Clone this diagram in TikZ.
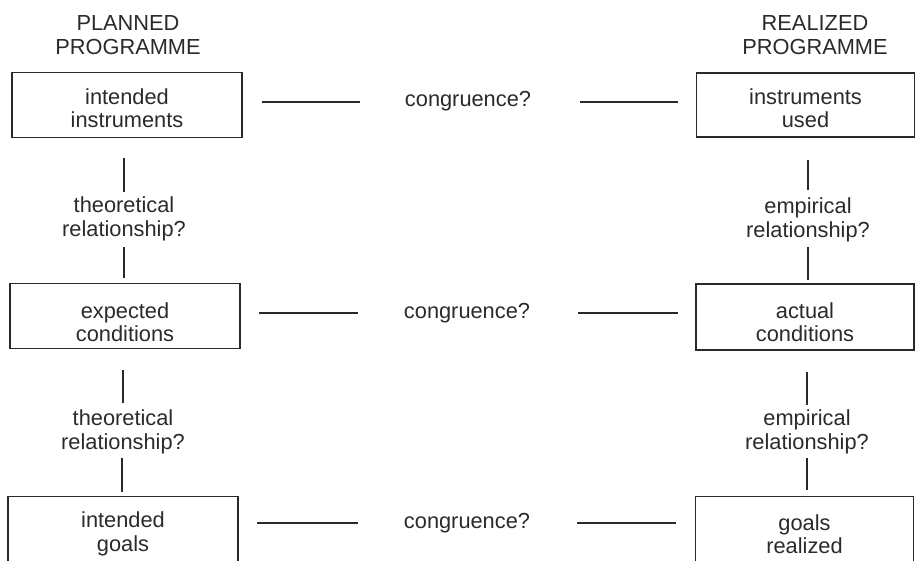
\documentclass[tikz,border=0pt]{standalone}
\usepackage{fontspec}
\setmainfont{Liberation Sans}
\definecolor{ink}{HTML}{2A2A2A}
\begin{document}
\begin{tikzpicture}[x=1pt,y=-1pt,
  txt/.style={font=\fontsize{21.8}{23.5}\selectfont, text=ink, align=center, inner sep=0pt},
  box/.style={draw=ink, line width=1.6pt, minimum height=65pt, inner sep=0pt},
  link/.style={draw=ink, line width=1.7pt}]
  \useasboundingbox (0,0) rectangle (915,560);
  \clip (0,0) rectangle (915,560);

  % column headings
  \node[txt] (hl) at (128,35) {PLANNED\\PROGRAMME};
  \node[txt] (hr) at (815,35) {REALIZED\\PROGRAMME};

  % planned programme
  \node[box, minimum width=230pt, label={[txt, yshift=-3pt]center:{intended\\instruments}}] (ii) at (127,105) {};
  \node[box, minimum width=230pt, label={[txt, yshift=-6pt]center:{expected\\conditions}}] (ec) at (125,316) {};
  \node[box, minimum width=230pt, label={[txt, yshift=-5pt]center:{intended\\goals}}] (ig) at (123,529) {};

  % realized programme
  \node[box, minimum width=218pt, minimum height=64pt, label={[txt, yshift=-3pt]center:{instruments\\used}}] (iu) at (805.5,105) {};
  \node[box, minimum width=218pt, minimum height=66pt, label={[txt, yshift=-5pt]center:{actual\\conditions}}] (ac) at (805,317) {};
  \node[box, minimum width=218pt, label={[txt, yshift=-5pt]center:{goals\\realized}}] (gr) at (804.5,529) {};

  % congruence labels
  \node[txt] (c1) at (468,101) {congruence?};
  \node[txt] (c2) at (467,313) {congruence?};
  \node[txt] (c3) at (467,523) {congruence?};

  % relationship labels
  \node[txt] (t1) at (124,219) {theoretical\\relationship?};
  \node[txt] (t2) at (123,432) {theoretical\\relationship?};
  \node[txt] (e1) at (808,220) {empirical\\relationship?};
  \node[txt] (e2) at (807,432) {empirical\\relationship?};

  % horizontal connectors: box -- label -- box
  \coordinate (a1) at (262,102); \coordinate (b1) at (360,102);
  \coordinate (a2) at (580,102); \coordinate (b2) at (678,102);
  \coordinate (a3) at (259,313); \coordinate (b3) at (358,313);
  \coordinate (a4) at (578,313); \coordinate (b4) at (678,313);
  \coordinate (a5) at (257,523); \coordinate (b5) at (358,523);
  \coordinate (a6) at (577,523); \coordinate (b6) at (676,523);
  \foreach \i in {1,...,6} \draw[link] (a\i) -- (b\i);

  % vertical connectors: box -- label -- box
  \coordinate (v1) at (124,158); \coordinate (w1) at (124,192);
  \coordinate (v2) at (124,247); \coordinate (w2) at (124,278);
  \coordinate (v3) at (123,370); \coordinate (w3) at (123,403);
  \coordinate (v4) at (122,458); \coordinate (w4) at (122,492);
  \coordinate (v5) at (808,160); \coordinate (w5) at (808,190);
  \coordinate (v6) at (808,247); \coordinate (w6) at (808,280);
  \coordinate (v7) at (807,372); \coordinate (w7) at (807,405);
  \coordinate (v8) at (807,458); \coordinate (w8) at (807,490);
  \foreach \i in {1,...,8} \draw[link] (v\i) -- (w\i);
\end{tikzpicture}
\end{document}
